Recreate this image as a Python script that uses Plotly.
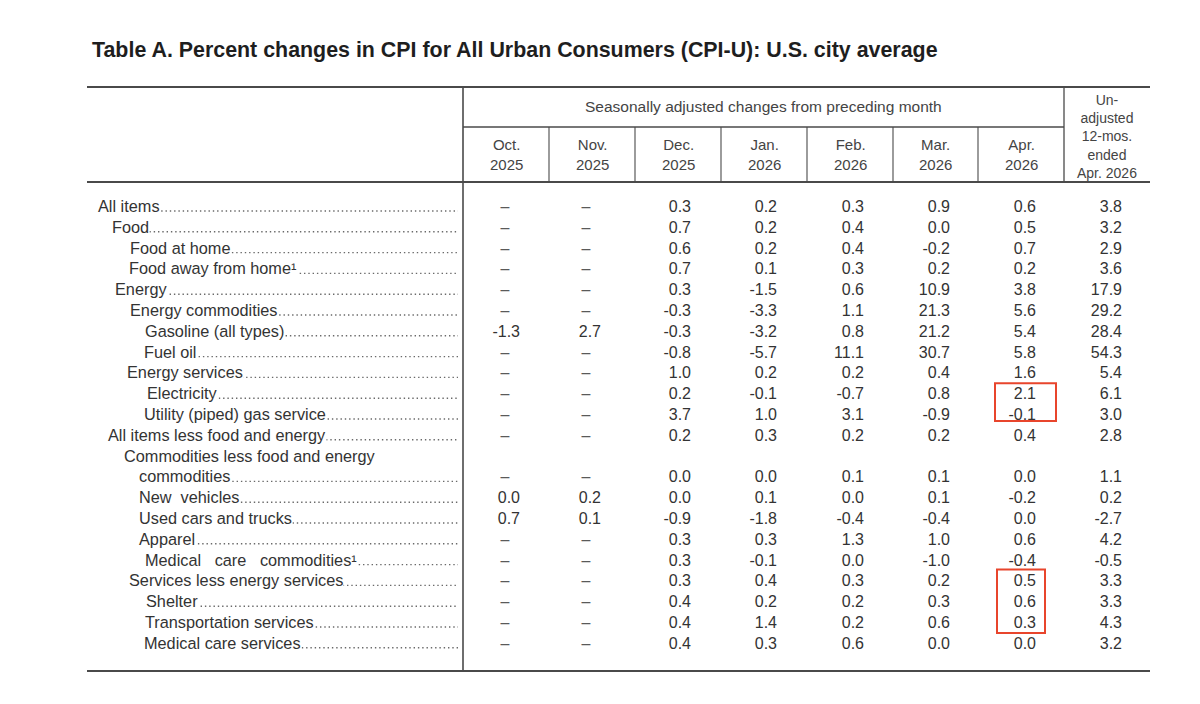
import plotly.graph_objects as go

# ---------------- data ----------------
title_text = "Table A. Percent changes in CPI for All Urban Consumers (CPI-U): U.S. city average"
span_header = "Seasonally adjusted changes from preceding month"
month_headers = ["Oct.<br>2025", "Nov.<br>2025", "Dec.<br>2025", "Jan.<br>2026",
                 "Feb.<br>2026", "Mar.<br>2026", "Apr.<br>2026"]
annual_header = "Un-<br>adjusted<br>12-mos.<br>ended<br>Apr. 2026"

categories = [
    "All items",
    "Food",
    "Food at home",
    "Food away from home¹",
    "Energy",
    "Energy commodities",
    "Gasoline (all types)",
    "Fuel oil",
    "Energy services",
    "Electricity",
    "Utility (piped) gas service",
    "All items less food and energy",
    "Commodities less food and energy<br>commodities",
    "New\u00a0 vehicles",
    "Used cars and trucks",
    "Apparel",
    "Medical\u00a0\u00a0\u00a0care\u00a0\u00a0\u00a0commodities¹",
    "Services less energy services",
    "Shelter",
    "Transportation services",
    "Medical care services",
]

# None = not available (shown as a dash)
oct_2025 = [None, None, None, None, None, None, -1.3, None, None, None, None, None, None,
            0.0, 0.7, None, None, None, None, None, None]
nov_2025 = [None, None, None, None, None, None, 2.7, None, None, None, None, None, None,
            0.2, 0.1, None, None, None, None, None, None]
dec_2025 = [0.3, 0.7, 0.6, 0.7, 0.3, -0.3, -0.3, -0.8, 1.0, 0.2, 3.7, 0.2, 0.0,
            0.0, -0.9, 0.3, 0.3, 0.3, 0.4, 0.4, 0.4]
jan_2026 = [0.2, 0.2, 0.2, 0.1, -1.5, -3.3, -3.2, -5.7, 0.2, -0.1, 1.0, 0.3, 0.0,
            0.1, -1.8, 0.3, -0.1, 0.4, 0.2, 1.4, 0.3]
feb_2026 = [0.3, 0.4, 0.4, 0.3, 0.6, 1.1, 0.8, 11.1, 0.2, -0.7, 3.1, 0.2, 0.1,
            0.0, -0.4, 1.3, 0.0, 0.3, 0.2, 0.2, 0.6]
mar_2026 = [0.9, 0.0, -0.2, 0.2, 10.9, 21.3, 21.2, 30.7, 0.4, 0.8, -0.9, 0.2, 0.1,
            0.1, -0.4, 1.0, -1.0, 0.2, 0.3, 0.6, 0.0]
apr_2026 = [0.6, 0.5, 0.7, 0.2, 3.8, 5.6, 5.4, 5.8, 1.6, 2.1, -0.1, 0.4, 0.0,
            -0.2, 0.0, 0.6, -0.4, 0.5, 0.6, 0.3, 0.0]
unadj_12mo = [3.8, 3.2, 2.9, 3.6, 17.9, 29.2, 28.4, 54.3, 5.4, 6.1, 3.0, 2.8, 1.1,
              0.2, -2.7, 4.2, -0.5, 3.3, 3.3, 4.3, 3.2]

columns = [oct_2025, nov_2025, dec_2025, jan_2026, feb_2026, mar_2026, apr_2026, unadj_12mo]

# highlighted cells: (column index, first row, last row)
highlights = [(6, "Electricity", "Utility (piped) gas service"),
              (6, "Services less energy services", "Transportation services")]

# ---------------- layout geometry ----------------
W, H = 1200, 704
PAGE_OFF = 8  # page body margin, so axis units equal window pixels
label_x = [97, 111, 129, 128, 114, 129, 144, 143, 126, 146, 143, 107, 123,
           138, 138, 138, 144, 128, 145, 144, 143]
col_edges = [463, 549, 635, 721, 807, 893, 978, 1064, 1150]
value_right = [520, 601, 691, 777, 864, 950, 1036, 1122]
left_edge = 87
line_top, line_mid, line_head, line_bottom = 87, 182, 127, 671
row0, row_step = 206, 20.8
value_dy = 2
dots_end = 458

TXT = "#333333"
LINE = "#4a4a4a"
REG = "Liberation Sans, Arial, sans-serif"

# slots: multi-line labels occupy extra slots
slots = []
s = 0
for c in categories:
    n_lines = c.count("<br>") + 1
    slots.append(s + n_lines - 1)  # values sit on the last line
    s += n_lines

def ypos(slot):
    return row0 + slot * row_step

fig = go.Figure()

# values
for j, col in enumerate(columns):
    right = value_right[j]
    xs, ys, ts = [], [], []
    dx, dy = [], []
    for i, v in enumerate(col):
        if v is None:
            dx.append(right - 15)
            dy.append(ypos(slots[i]) + value_dy)
        else:
            xs.append(right)
            ys.append(ypos(slots[i]) + value_dy)
            ts.append(f"{v:.1f}")
    fig.add_trace(go.Scatter(x=xs, y=ys, text=ts, mode="text", textposition="middle left",
                             textfont=dict(family=REG, size=16, color=TXT),
                             hoverinfo="skip", showlegend=False))
    if dx:
        fig.add_trace(go.Scatter(x=dx, y=dy, text=["–"] * len(dx), mode="text",
                                 textposition="middle center",
                                 textfont=dict(family=REG, size=16, color="#5a5a5a"),
                                 hoverinfo="skip", showlegend=False))

shapes = []
annotations = []

# leader dots + labels
for i, c in enumerate(categories):
    lines = c.split("<br>")
    first_slot = slots[i] - (len(lines) - 1)
    for k, ln in enumerate(lines):
        x0 = label_x[i] + (15 if k > 0 else 0)
        y = ypos(first_slot + k)
        if k == len(lines) - 1:
            shapes.append(dict(type="line", xref="x", yref="y", x0=x0 + 4, x1=dots_end,
                               y0=y + 5, y1=y + 5,
                               line=dict(color="#6a6a6a", width=1.4, dash="1.4px,2.9px")))
        annotations.append(dict(x=x0, y=y, xref="x", yref="y", text=ln, showarrow=False,
                                xanchor="left", yanchor="middle", bgcolor="white", borderpad=0,
                                font=dict(family=REG, size=16.3, color=TXT)))

# title
annotations.append(dict(x=90, y=50, xref="x", yref="y", text="<b>" + title_text + "</b>",
                        showarrow=False, xanchor="left", yanchor="middle",
                        font=dict(family=REG, size=21.4, color="#1e1e1e")))
# span header
annotations.append(dict(x=(col_edges[0] + col_edges[7]) / 2, y=106, xref="x", yref="y",
                        text=span_header, showarrow=False, xanchor="center", yanchor="middle",
                        font=dict(family=REG, size=15.5, color="#444444")))
# month headers
for j, h in enumerate(month_headers):
    annotations.append(dict(x=(col_edges[j] + col_edges[j + 1]) / 2, y=154, xref="x", yref="y",
                            text=h, showarrow=False, xanchor="center", yanchor="middle",
                            font=dict(family=REG, size=15, color="#444444")))
annotations.append(dict(x=(col_edges[7] + col_edges[8]) / 2, y=136, xref="x", yref="y",
                        text=annual_header, showarrow=False, xanchor="center", yanchor="middle",
                        font=dict(family=REG, size=14, color="#444444")))

# rules
def hline(y, x0, x1, w):
    shapes.append(dict(type="line", xref="x", yref="y", x0=x0, x1=x1, y0=y, y1=y,
                       line=dict(color=LINE, width=w)))

def vline(x, y0, y1, w):
    shapes.append(dict(type="line", xref="x", yref="y", x0=x, x1=x, y0=y0, y1=y1,
                       line=dict(color=LINE, width=w)))

hline(line_top, left_edge, col_edges[-1], 2)
hline(line_mid, left_edge, col_edges[-1], 2)
hline(line_bottom, left_edge, col_edges[-1], 2)
hline(line_head, col_edges[0], col_edges[7], 1.3)
vline(col_edges[0], line_top, line_bottom, 1.6)
vline(col_edges[7], line_top, line_mid, 1.3)
for x in col_edges[1:7]:
    vline(x, line_head, line_mid, 1.1)

# highlight boxes
for j, r_a, r_b in highlights:
    ia, ib = categories.index(r_a), categories.index(r_b)
    right = value_right[j]
    wide = ia == categories.index("Electricity")
    shapes.append(dict(type="rect", xref="x", yref="y",
                       x0=right - (41 if wide else 39),
                       x1=right + (20 if wide else 9),
                       y0=ypos(slots[ia]) - (10 if wide else 11),
                       y1=ypos(slots[ib]) + (7 if wide else 11),
                       line=dict(color="#e8452c", width=2), fillcolor="rgba(0,0,0,0)"))

fig.update_layout(
    width=W, height=H, margin=dict(l=0, r=0, t=0, b=0),
    paper_bgcolor="white", plot_bgcolor="white",
    xaxis=dict(range=[PAGE_OFF, W + PAGE_OFF], visible=False, fixedrange=True),
    yaxis=dict(range=[H + PAGE_OFF, PAGE_OFF], visible=False, fixedrange=True),
    shapes=shapes, annotations=annotations,
)

fig.write_html("out.html")
